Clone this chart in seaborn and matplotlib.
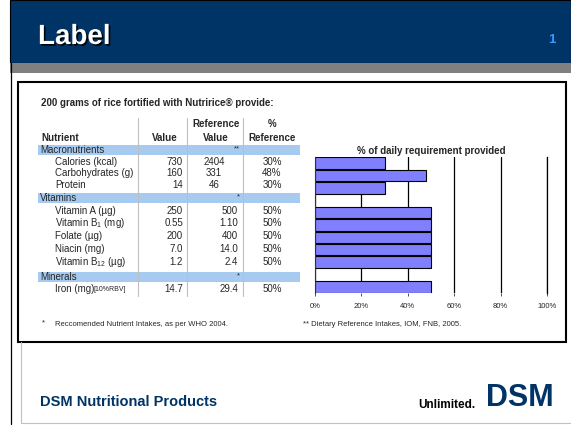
import matplotlib
matplotlib.use("Agg")
import matplotlib.pyplot as plt
from matplotlib.patches import Rectangle
import matplotlib.patheffects as pe
import seaborn as sns
import pandas as pd
import numpy as np

# ---------------- data ----------------
groups = ["Macronutrients", "Vitamins", "Minerals"]
group_marks = ["**", "*", "*"]
nutrients = ["Calories (kcal)", "Carbohydrates (g)", "Protein",
             "Vitamin A (µg)", "Vitamin B$_1$ (mg)", "Folate (µg)",
             "Niacin (mg)", "Vitamin B$_{12}$ (µg)", "Iron (mg)"]
nutrient_group = [0, 0, 0, 1, 1, 1, 1, 1, 2]
values = ["730", "160", "14", "250", "0.55", "200", "7.0", "1.2", "14.7"]
ref_values = ["2404", "331", "46", "500", "1.10", "400", "14.0", "2.4", "29.4"]
pct_ref = [30, 48, 30, 50, 50, 50, 50, 50, 50]
chart_order = ["Calories", "Carbohydrates", "Protein", " ",
               "Vitamin A", "Vitamin B1", "Folate", "Niacin", "Vitamin B12",
               "  ", "Iron"]
chart_rows = ["Calories", "Carbohydrates", "Protein", "Vitamin A", "Vitamin B1",
              "Folate", "Niacin", "Vitamin B12", "Iron"]
xticks = [0, 20, 40, 60, 80, 100]
xtick_labels = ["0%", "20%", "40%", "60%", "80%", "100%"]

# ---------------- style ----------------
sns.set_theme(style="white")
plt.rcParams["font.family"] = ["Liberation Sans", "DejaVu Sans"]
plt.rcParams["mathtext.fontset"] = "custom"
plt.rcParams["mathtext.rm"] = "Liberation Sans"
plt.rcParams["mathtext.it"] = "Liberation Sans:italic"
plt.rcParams["mathtext.bf"] = "Liberation Sans:bold"

W, H = 571, 426
fig = plt.figure(figsize=(W / 100, H / 100), dpi=100)
fig.patch.set_facecolor("white")

# canvas axes in pixel coordinates
cv = fig.add_axes([0, 0, 1, 1])
cv.set_xlim(0, W)
cv.set_ylim(H, 0)
cv.axis("off")

NAVY = "#003366"
# banner
cv.add_patch(Rectangle((10, 0), W - 10, 63, facecolor=NAVY, edgecolor="black", lw=0.8))
cv.add_patch(Rectangle((10, 63), W - 10, 10, facecolor="#808080", edgecolor="none"))
cv.plot([10.5, 10.5], [63, 424], color="black", lw=0.9)
cv.plot([20.5, 20.5], [342, 423], color="#C0C0C0", lw=0.8)
cv.plot([20.5, W], [423, 423], color="#C0C0C0", lw=0.8)

t = cv.text(38, 37, "Label", color="white", fontsize=20, fontweight="bold",
            ha="left", va="center")
t.set_path_effects([pe.withSimplePatchShadow(offset=(1.2, -1.2), shadow_rgbFace="black", alpha=0.9)])
cv.text(552, 40, "1", color="#3399FF", fontsize=9.5, fontweight="bold", ha="center", va="center")

# content box
cv.add_patch(Rectangle((18, 82), 548, 260, facecolor="none", edgecolor="black", lw=1.5))

cv.text(41, 103, "200 grams of rice fortified with Nutririce® provide:", fontsize=7,
        fontweight="bold", ha="left", va="center")

# table layout
group_y = [150, 198, 277]
row_y = [162, 173.5, 185, 210.5, 223, 236, 249, 262, 289]
band_h = 10
BAND = "#A6CAF0"
for gy in group_y:
    cv.add_patch(Rectangle((38, gy - band_h / 2), 262, band_h, facecolor=BAND, edgecolor="none"))
for gx in [138, 187, 243]:
    cv.plot([gx, gx], [118, 296], color="#BFBFBF", lw=0.8)

fs = 7
cv.text(216, 124, "Reference", fontsize=fs, fontweight="bold", ha="center", va="center")
cv.text(272, 124, "%", fontsize=fs, fontweight="bold", ha="center", va="center")
cv.text(41, 138, "Nutrient", fontsize=fs, fontweight="bold", ha="left", va="center")
cv.text(165, 138, "Value", fontsize=fs, fontweight="bold", ha="center", va="center")
cv.text(216, 138, "Value", fontsize=fs, fontweight="bold", ha="center", va="center")
cv.text(272, 138, "Reference", fontsize=fs, fontweight="bold", ha="center", va="center")

for g, mark, gy in zip(groups, group_marks, group_y):
    cv.text(40, gy, g, fontsize=fs, ha="left", va="center")
    cv.text(240, gy - 1.5, mark, fontsize=5.5, ha="right", va="center")

for i, (n, v, r, p, y) in enumerate(zip(nutrients, values, ref_values, pct_ref, row_y)):
    cv.text(55, y, n, fontsize=fs, ha="left", va="center")
    if n.startswith("Iron"):
        cv.text(93, y + 0.5, "[10%RBV]", fontsize=5, ha="left", va="center")
    cv.text(183, y, v, fontsize=fs, ha="right", va="center")
    if nutrient_group[i] == 0:
        cv.text(214, y, r, fontsize=fs, ha="center", va="center")
    else:
        cv.text(238, y, r, fontsize=fs, ha="right", va="center")
    cv.text(272, y, f"{p}%", fontsize=fs, ha="center", va="center")

# footnotes
cv.text(42, 323, "*", fontsize=5.5, ha="left", va="center")
cv.text(55, 324, "Reccomended Nutrient Intakes, as per WHO 2004.", fontsize=5.5, ha="left", va="center")
cv.text(303, 324, "** Dietary Reference Intakes, IOM, FNB, 2005.", fontsize=5.5, ha="left", va="center")

# footer
cv.text(40, 402, "DSM Nutritional Products", color=NAVY, fontsize=10.5, fontweight="bold",
        ha="left", va="center")
cv.text(418, 405, "Unlimited.", color="black", fontsize=8.5, fontweight="bold", ha="left", va="center")
cv.text(486, 398, "DSM", color=NAVY, fontsize=22, fontweight="bold", ha="left", va="center")

# ---------------- bar chart ----------------
x0, x1, y0, y1 = 315, 547, 157, 293
ax = fig.add_axes([x0 / W, 1 - y1 / H, (x1 - x0) / W, (y1 - y0) / H])
df = pd.DataFrame({"row": chart_rows, "pct": pct_ref})
sns.barplot(data=df, y="row", x="pct", order=chart_order, orient="h",
            color="#8080FF", saturation=1, edgecolor="black", linewidth=0.8,
            width=0.92, ax=ax)
ax.set_xlim(0, 100)
ax.set_ylim(len(chart_order) - 0.5, -0.5)
ax.set_xticks(xticks)
ax.set_xticklabels(xtick_labels, fontsize=5.5)
ax.set_yticks([])
ax.set_xlabel("")
ax.set_ylabel("")
ax.set_facecolor("none")
ax.grid(axis="x", color="black", lw=0.9)
ax.grid(axis="y", visible=False)
ax.set_axisbelow(True)
ax.spines["top"].set_visible(False)
ax.spines["right"].set_color("black")
ax.spines["right"].set_linewidth(0.9)
ax.spines["left"].set_color("#333333")
ax.spines["left"].set_linewidth(0.8)
ax.spines["bottom"].set_visible(False)
ax.tick_params(axis="x", length=2, width=0.6, color="#333333", pad=5, bottom=True)
ax.set_title("% of daily requirement provided", fontsize=7, fontweight="bold", pad=2)

fig.savefig("out.png", dpi=100)
